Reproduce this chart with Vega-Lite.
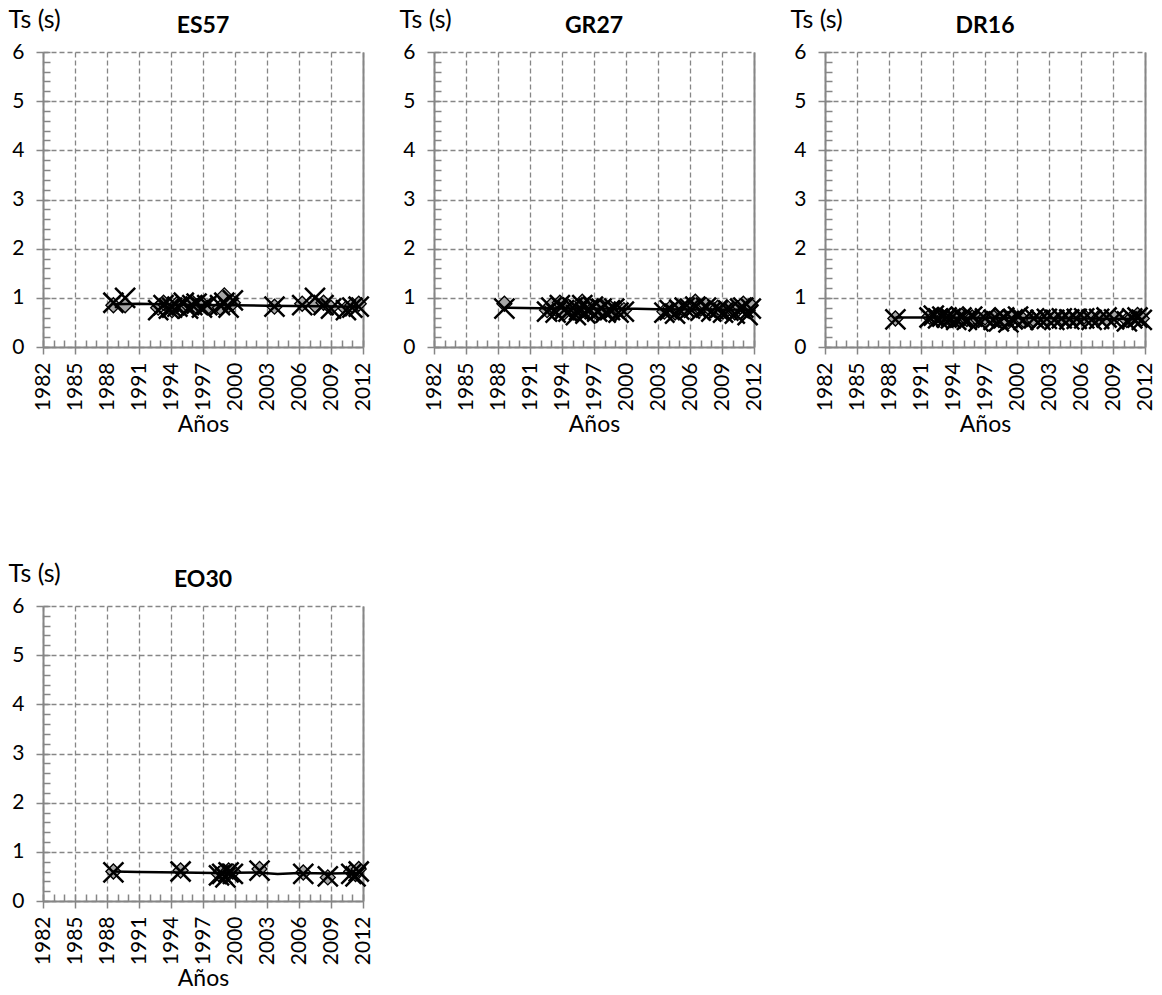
{
  "$schema": "https://vega.github.io/schema/vega-lite/v6.json",
  "padding": {"left": 8, "top": 7, "right": 0, "bottom": 0},
  "background": "white",
  "config": {
    "font": "Lato",
    "view": {"stroke": null},
    "title": {"font": "Lato", "fontSize": 23, "fontWeight": "bold", "color": "#000", "anchor": "middle", "offset": -31},
    "axis": {"labelFont": "Lato", "titleFont": "Lato", "labelColor": "#000", "titleColor": "#000", "titleFontWeight": "normal"}
  },
  "datasets": {
    "events": [
      {"station": "ES57", "year": 1988.6, "ts_d": 0.85, "ts_x": 0.9},
      {"station": "ES57", "year": 1989.7, "ts_d": 0.85, "ts_x": 1.0},
      {"station": "ES57", "year": 1992.8, "ts_d": 0.8, "ts_x": 0.75},
      {"station": "ES57", "year": 1993.3, "ts_d": 0.9, "ts_x": 0.85},
      {"station": "ES57", "year": 1993.8, "ts_d": 0.85, "ts_x": 0.78},
      {"station": "ES57", "year": 1994.1, "ts_d": 0.75, "ts_x": 0.8},
      {"station": "ES57", "year": 1994.6, "ts_d": 0.88, "ts_x": 0.82},
      {"station": "ES57", "year": 1995.2, "ts_d": 0.8, "ts_x": 0.9},
      {"station": "ES57", "year": 1995.6, "ts_d": 0.85, "ts_x": 0.78},
      {"station": "ES57", "year": 1996.0, "ts_d": 0.9, "ts_x": 0.85},
      {"station": "ES57", "year": 1996.4, "ts_d": 0.82, "ts_x": 0.88},
      {"station": "ES57", "year": 1996.9, "ts_d": 0.88, "ts_x": 0.8},
      {"station": "ES57", "year": 1997.4, "ts_d": 0.8, "ts_x": 0.85},
      {"station": "ES57", "year": 1998.6, "ts_d": 0.8, "ts_x": 0.85},
      {"station": "ES57", "year": 1999.0, "ts_d": 1.05, "ts_x": 0.9},
      {"station": "ES57", "year": 1999.4, "ts_d": 0.85, "ts_x": 0.8},
      {"station": "ES57", "year": 1999.8, "ts_d": 0.9, "ts_x": 0.95},
      {"station": "ES57", "year": 2003.7, "ts_d": 0.82, "ts_x": 0.82},
      {"station": "ES57", "year": 2006.3, "ts_d": 0.88, "ts_x": 0.85},
      {"station": "ES57", "year": 2007.5, "ts_d": 0.85, "ts_x": 1.0},
      {"station": "ES57", "year": 2008.3, "ts_d": 0.9, "ts_x": 0.85},
      {"station": "ES57", "year": 2009.0, "ts_d": 0.8, "ts_x": 0.78},
      {"station": "ES57", "year": 2010.4, "ts_d": 0.78, "ts_x": 0.75},
      {"station": "ES57", "year": 2011.0, "ts_d": 0.85, "ts_x": 0.8},
      {"station": "ES57", "year": 2011.6, "ts_d": 0.88, "ts_x": 0.82},

      {"station": "GR27", "year": 1988.6, "ts_d": 0.88, "ts_x": 0.78},
      {"station": "GR27", "year": 1992.6, "ts_d": 0.75, "ts_x": 0.72},
      {"station": "GR27", "year": 1993.0, "ts_d": 0.85, "ts_x": 0.8},
      {"station": "GR27", "year": 1993.4, "ts_d": 0.78, "ts_x": 0.7},
      {"station": "GR27", "year": 1993.8, "ts_d": 0.9, "ts_x": 0.85},
      {"station": "GR27", "year": 1994.2, "ts_d": 0.7, "ts_x": 0.75},
      {"station": "GR27", "year": 1994.6, "ts_d": 0.82, "ts_x": 0.72},
      {"station": "GR27", "year": 1995.0, "ts_d": 0.75, "ts_x": 0.8},
      {"station": "GR27", "year": 1995.3, "ts_d": 0.68, "ts_x": 0.65},
      {"station": "GR27", "year": 1995.6, "ts_d": 0.8, "ts_x": 0.75},
      {"station": "GR27", "year": 1995.9, "ts_d": 0.92, "ts_x": 0.85},
      {"station": "GR27", "year": 1996.2, "ts_d": 0.72, "ts_x": 0.68},
      {"station": "GR27", "year": 1996.5, "ts_d": 0.85, "ts_x": 0.78},
      {"station": "GR27", "year": 1996.9, "ts_d": 0.78, "ts_x": 0.82},
      {"station": "GR27", "year": 1997.3, "ts_d": 0.7, "ts_x": 0.72},
      {"station": "GR27", "year": 1997.7, "ts_d": 0.82, "ts_x": 0.78},
      {"station": "GR27", "year": 1998.1, "ts_d": 0.75, "ts_x": 0.7},
      {"station": "GR27", "year": 1998.5, "ts_d": 0.8, "ts_x": 0.75},
      {"station": "GR27", "year": 1998.9, "ts_d": 0.72, "ts_x": 0.78},
      {"station": "GR27", "year": 1999.3, "ts_d": 0.78, "ts_x": 0.7},
      {"station": "GR27", "year": 1999.8, "ts_d": 0.75, "ts_x": 0.72},
      {"station": "GR27", "year": 2003.6, "ts_d": 0.72, "ts_x": 0.7},
      {"station": "GR27", "year": 2004.1, "ts_d": 0.78, "ts_x": 0.75},
      {"station": "GR27", "year": 2004.6, "ts_d": 0.7, "ts_x": 0.68},
      {"station": "GR27", "year": 2005.0, "ts_d": 0.8, "ts_x": 0.76},
      {"station": "GR27", "year": 2005.5, "ts_d": 0.75, "ts_x": 0.8},
      {"station": "GR27", "year": 2006.0, "ts_d": 0.85, "ts_x": 0.78},
      {"station": "GR27", "year": 2006.5, "ts_d": 0.92, "ts_x": 0.82},
      {"station": "GR27", "year": 2007.0, "ts_d": 0.78, "ts_x": 0.74},
      {"station": "GR27", "year": 2007.5, "ts_d": 0.85, "ts_x": 0.8},
      {"station": "GR27", "year": 2008.0, "ts_d": 0.75, "ts_x": 0.72},
      {"station": "GR27", "year": 2008.6, "ts_d": 0.8, "ts_x": 0.76},
      {"station": "GR27", "year": 2009.1, "ts_d": 0.72, "ts_x": 0.7},
      {"station": "GR27", "year": 2009.6, "ts_d": 0.78, "ts_x": 0.74},
      {"station": "GR27", "year": 2010.2, "ts_d": 0.7, "ts_x": 0.68},
      {"station": "GR27", "year": 2010.7, "ts_d": 0.82, "ts_x": 0.78},
      {"station": "GR27", "year": 2011.0, "ts_d": 0.88, "ts_x": 0.8},
      {"station": "GR27", "year": 2011.4, "ts_d": 0.75, "ts_x": 0.65},
      {"station": "GR27", "year": 2011.7, "ts_d": 0.85, "ts_x": 0.78},

      {"station": "DR16", "year": 1988.6, "ts_d": 0.58, "ts_x": 0.56},
      {"station": "DR16", "year": 1991.8, "ts_d": 0.62, "ts_x": 0.6},
      {"station": "DR16", "year": 1992.2, "ts_d": 0.6, "ts_x": 0.64},
      {"station": "DR16", "year": 1992.6, "ts_d": 0.65, "ts_x": 0.58},
      {"station": "DR16", "year": 1993.0, "ts_d": 0.58, "ts_x": 0.62},
      {"station": "DR16", "year": 1993.4, "ts_d": 0.62, "ts_x": 0.6},
      {"station": "DR16", "year": 1993.8, "ts_d": 0.55, "ts_x": 0.58},
      {"station": "DR16", "year": 1994.3, "ts_d": 0.6, "ts_x": 0.55},
      {"station": "DR16", "year": 1994.8, "ts_d": 0.63, "ts_x": 0.6},
      {"station": "DR16", "year": 1995.3, "ts_d": 0.57, "ts_x": 0.55},
      {"station": "DR16", "year": 1995.8, "ts_d": 0.6, "ts_x": 0.62},
      {"station": "DR16", "year": 1996.4, "ts_d": 0.55, "ts_x": 0.52},
      {"station": "DR16", "year": 1997.0, "ts_d": 0.6, "ts_x": 0.58},
      {"station": "DR16", "year": 1997.8, "ts_d": 0.6, "ts_x": 0.55},
      {"station": "DR16", "year": 1998.3, "ts_d": 0.55, "ts_x": 0.52},
      {"station": "DR16", "year": 1998.8, "ts_d": 0.62, "ts_x": 0.6},
      {"station": "DR16", "year": 1999.2, "ts_d": 0.52, "ts_x": 0.5},
      {"station": "DR16", "year": 1999.6, "ts_d": 0.6, "ts_x": 0.56},
      {"station": "DR16", "year": 2000.1, "ts_d": 0.58, "ts_x": 0.62},
      {"station": "DR16", "year": 2000.6, "ts_d": 0.55, "ts_x": 0.55},
      {"station": "DR16", "year": 2001.6, "ts_d": 0.55, "ts_x": 0.58},
      {"station": "DR16", "year": 2002.2, "ts_d": 0.58, "ts_x": 0.55},
      {"station": "DR16", "year": 2002.8, "ts_d": 0.6, "ts_x": 0.57},
      {"station": "DR16", "year": 2003.5, "ts_d": 0.57, "ts_x": 0.55},
      {"station": "DR16", "year": 2004.2, "ts_d": 0.6, "ts_x": 0.58},
      {"station": "DR16", "year": 2004.9, "ts_d": 0.55, "ts_x": 0.56},
      {"station": "DR16", "year": 2005.6, "ts_d": 0.6, "ts_x": 0.57},
      {"station": "DR16", "year": 2006.3, "ts_d": 0.62, "ts_x": 0.58},
      {"station": "DR16", "year": 2007.0, "ts_d": 0.58, "ts_x": 0.55},
      {"station": "DR16", "year": 2007.7, "ts_d": 0.6, "ts_x": 0.57},
      {"station": "DR16", "year": 2008.4, "ts_d": 0.58, "ts_x": 0.6},
      {"station": "DR16", "year": 2009.1, "ts_d": 0.6, "ts_x": 0.56},
      {"station": "DR16", "year": 2010.3, "ts_d": 0.55, "ts_x": 0.52},
      {"station": "DR16", "year": 2010.8, "ts_d": 0.6, "ts_x": 0.58},
      {"station": "DR16", "year": 2011.3, "ts_d": 0.65, "ts_x": 0.6},
      {"station": "DR16", "year": 2011.7, "ts_d": 0.58, "ts_x": 0.55},

      {"station": "EO30", "year": 1988.6, "ts_d": 0.6, "ts_x": 0.58},
      {"station": "EO30", "year": 1994.9, "ts_d": 0.62, "ts_x": 0.6},
      {"station": "EO30", "year": 1998.5, "ts_d": 0.55, "ts_x": 0.52},
      {"station": "EO30", "year": 1998.8, "ts_d": 0.6, "ts_x": 0.55},
      {"station": "EO30", "year": 1999.1, "ts_d": 0.5, "ts_x": 0.48},
      {"station": "EO30", "year": 1999.4, "ts_d": 0.62, "ts_x": 0.58},
      {"station": "EO30", "year": 1999.8, "ts_d": 0.6, "ts_x": 0.55},
      {"station": "EO30", "year": 2002.3, "ts_d": 0.65, "ts_x": 0.62},
      {"station": "EO30", "year": 2006.4, "ts_d": 0.58, "ts_x": 0.55},
      {"station": "EO30", "year": 2008.7, "ts_d": 0.48, "ts_x": 0.5},
      {"station": "EO30", "year": 2010.9, "ts_d": 0.6, "ts_x": 0.55},
      {"station": "EO30", "year": 2011.3, "ts_d": 0.55, "ts_x": 0.5},
      {"station": "EO30", "year": 2011.6, "ts_d": 0.65, "ts_x": 0.6}
    ],
    "trend": [
      {"station": "ES57", "year": 1988.6, "ts": 0.87},
      {"station": "ES57", "year": 1991.0, "ts": 0.88},
      {"station": "ES57", "year": 1995.0, "ts": 0.86},
      {"station": "ES57", "year": 2000.0, "ts": 0.85},
      {"station": "ES57", "year": 2003.0, "ts": 0.84},
      {"station": "ES57", "year": 2008.0, "ts": 0.83},
      {"station": "ES57", "year": 2011.6, "ts": 0.82},
      {"station": "GR27", "year": 1988.6, "ts": 0.8},
      {"station": "GR27", "year": 1992.0, "ts": 0.79},
      {"station": "GR27", "year": 2001.0, "ts": 0.78},
      {"station": "GR27", "year": 2003.0, "ts": 0.77},
      {"station": "GR27", "year": 2011.7, "ts": 0.76},
      {"station": "DR16", "year": 1988.6, "ts": 0.6},
      {"station": "DR16", "year": 1992.0, "ts": 0.6},
      {"station": "DR16", "year": 2000.0, "ts": 0.59},
      {"station": "DR16", "year": 2011.7, "ts": 0.57},
      {"station": "EO30", "year": 1988.6, "ts": 0.6},
      {"station": "EO30", "year": 1991.0, "ts": 0.59},
      {"station": "EO30", "year": 1995.0, "ts": 0.58},
      {"station": "EO30", "year": 1998.0, "ts": 0.57},
      {"station": "EO30", "year": 2002.0, "ts": 0.58},
      {"station": "EO30", "year": 2004.0, "ts": 0.55},
      {"station": "EO30", "year": 2006.0, "ts": 0.57},
      {"station": "EO30", "year": 2009.0, "ts": 0.56},
      {"station": "EO30", "year": 2011.6, "ts": 0.57}
    ]
  },
  "columns": 3,
  "bounds": "flush",
  "spacing": {"row": 259, "column": 71},
  "concat": [
    {
      "width": 320, "height": 295,
      "title": "ES57",
      "layer": [
        {"data": {"name": "events"}, "transform": [{"filter": "datum.station === 'ES57'"}],
         "mark": {"type": "point", "shape": "diamond", "filled": true, "fill": "#a6a6a6", "stroke": "#000", "strokeWidth": 1.3, "size": 225, "opacity": 1},
         "encoding": {
           "x": {"field": "year", "type": "quantitative", "scale": {"domain": [1982, 2012], "nice": false, "zero": false},
                 "axis": {"values": [1982,1985,1988,1991,1994,1997,2000,2003,2006,2009,2012], "format": "d", "labelAngle": -90, "labelAlign": "right", "labelBaseline": "middle", "labelFontSize": 21, "labelPadding": 8, "labelOverlap": false, "labelFlush": false, "grid": true, "gridDash": [5, 3], "gridColor": "#868686", "gridWidth": 1.3, "domainColor": "#868686", "domainWidth": 2, "tickColor": "#868686", "tickSize": 7, "tickWidth": 1.5, "title": "Años", "titleFontSize": 23, "titlePadding": 3}},
           "y": {"field": "ts_d", "type": "quantitative", "scale": {"domain": [0, 6], "nice": false},
                 "axis": {"values": [0,1,2,3,4,5,6], "labelFontSize": 21, "labelPadding": 12, "grid": true, "gridDash": [5, 3], "gridColor": "#868686", "gridWidth": 1.3, "domainColor": "#868686", "domainWidth": 2, "tickColor": "#868686", "tickSize": 7, "tickWidth": 1.5, "title": "Ts (s)", "titleFontSize": 25, "titleAngle": 0, "titleAlign": "left", "titleBaseline": "alphabetic", "titleX": -35, "titleY": -25}}
         }},
        {"data": {"name": "trend"}, "transform": [{"filter": "datum.station === 'ES57'"}],
         "mark": {"type": "line", "color": "#000", "strokeWidth": 2.5},
         "encoding": {
           "x": {"field": "year", "type": "quantitative", "axis": {"orient": "bottom", "values": [1982,1983,1984,1985,1986,1987,1988,1989,1990,1991,1992,1993,1994,1995,1996,1997,1998,1999,2000,2001,2002,2003,2004,2005,2006,2007,2008,2009,2010,2011,2012], "labels": false, "domain": false, "grid": false, "ticks": true, "tickSize": -7, "tickColor": "#868686", "tickWidth": 1.5, "title": null}},
           "y": {"field": "ts", "type": "quantitative", "axis": {"orient": "left", "values": [0,0.2,0.4,0.6,0.8,1,1.2,1.4,1.6,1.8,2,2.2,2.4,2.6,2.8,3,3.2,3.4,3.6,3.8,4,4.2,4.4,4.6,4.8,5,5.2,5.4,5.6,5.8,6], "labels": false, "domain": false, "grid": false, "ticks": true, "tickSize": -7, "tickColor": "#868686", "tickWidth": 1.5, "title": null}}
         }},
        {"data": {"name": "events"}, "transform": [{"filter": "datum.station === 'ES57'"}],
         "mark": {"type": "point", "shape": "M-1,-1L1,1M-1,1L1,-1", "filled": false, "stroke": "#000", "strokeWidth": 2.5, "size": 400, "opacity": 1},
         "encoding": {
           "x": {"field": "year", "type": "quantitative", "axis": null},
           "y": {"field": "ts_x", "type": "quantitative", "axis": {"orient": "right", "labels": false, "ticks": false, "grid": false, "domain": true, "domainColor": "#868686", "domainWidth": 2, "title": null}}
         }}
      ],
      "resolve": {"axis": {"x": "independent", "y": "independent"}}
    },
    {
      "width": 320, "height": 295,
      "title": "GR27",
      "layer": [
        {"data": {"name": "events"}, "transform": [{"filter": "datum.station === 'GR27'"}],
         "mark": {"type": "point", "shape": "diamond", "filled": true, "fill": "#a6a6a6", "stroke": "#000", "strokeWidth": 1.3, "size": 225, "opacity": 1},
         "encoding": {
           "x": {"field": "year", "type": "quantitative", "scale": {"domain": [1982, 2012], "nice": false, "zero": false},
                 "axis": {"values": [1982,1985,1988,1991,1994,1997,2000,2003,2006,2009,2012], "format": "d", "labelAngle": -90, "labelAlign": "right", "labelBaseline": "middle", "labelFontSize": 21, "labelPadding": 8, "labelOverlap": false, "labelFlush": false, "grid": true, "gridDash": [5, 3], "gridColor": "#868686", "gridWidth": 1.3, "domainColor": "#868686", "domainWidth": 2, "tickColor": "#868686", "tickSize": 7, "tickWidth": 1.5, "title": "Años", "titleFontSize": 23, "titlePadding": 3}},
           "y": {"field": "ts_d", "type": "quantitative", "scale": {"domain": [0, 6], "nice": false},
                 "axis": {"values": [0,1,2,3,4,5,6], "labelFontSize": 21, "labelPadding": 12, "grid": true, "gridDash": [5, 3], "gridColor": "#868686", "gridWidth": 1.3, "domainColor": "#868686", "domainWidth": 2, "tickColor": "#868686", "tickSize": 7, "tickWidth": 1.5, "title": "Ts (s)", "titleFontSize": 25, "titleAngle": 0, "titleAlign": "left", "titleBaseline": "alphabetic", "titleX": -35, "titleY": -25}}
         }},
        {"data": {"name": "trend"}, "transform": [{"filter": "datum.station === 'GR27'"}],
         "mark": {"type": "line", "color": "#000", "strokeWidth": 2.5},
         "encoding": {
           "x": {"field": "year", "type": "quantitative", "axis": {"orient": "bottom", "values": [1982,1983,1984,1985,1986,1987,1988,1989,1990,1991,1992,1993,1994,1995,1996,1997,1998,1999,2000,2001,2002,2003,2004,2005,2006,2007,2008,2009,2010,2011,2012], "labels": false, "domain": false, "grid": false, "ticks": true, "tickSize": -7, "tickColor": "#868686", "tickWidth": 1.5, "title": null}},
           "y": {"field": "ts", "type": "quantitative", "axis": {"orient": "left", "values": [0,0.2,0.4,0.6,0.8,1,1.2,1.4,1.6,1.8,2,2.2,2.4,2.6,2.8,3,3.2,3.4,3.6,3.8,4,4.2,4.4,4.6,4.8,5,5.2,5.4,5.6,5.8,6], "labels": false, "domain": false, "grid": false, "ticks": true, "tickSize": -7, "tickColor": "#868686", "tickWidth": 1.5, "title": null}}
         }},
        {"data": {"name": "events"}, "transform": [{"filter": "datum.station === 'GR27'"}],
         "mark": {"type": "point", "shape": "M-1,-1L1,1M-1,1L1,-1", "filled": false, "stroke": "#000", "strokeWidth": 2.5, "size": 400, "opacity": 1},
         "encoding": {
           "x": {"field": "year", "type": "quantitative", "axis": null},
           "y": {"field": "ts_x", "type": "quantitative", "axis": {"orient": "right", "labels": false, "ticks": false, "grid": false, "domain": true, "domainColor": "#868686", "domainWidth": 2, "title": null}}
         }}
      ],
      "resolve": {"axis": {"x": "independent", "y": "independent"}}
    },
    {
      "width": 320, "height": 295,
      "title": "DR16",
      "layer": [
        {"data": {"name": "events"}, "transform": [{"filter": "datum.station === 'DR16'"}],
         "mark": {"type": "point", "shape": "diamond", "filled": true, "fill": "#a6a6a6", "stroke": "#000", "strokeWidth": 1.3, "size": 225, "opacity": 1},
         "encoding": {
           "x": {"field": "year", "type": "quantitative", "scale": {"domain": [1982, 2012], "nice": false, "zero": false},
                 "axis": {"values": [1982,1985,1988,1991,1994,1997,2000,2003,2006,2009,2012], "format": "d", "labelAngle": -90, "labelAlign": "right", "labelBaseline": "middle", "labelFontSize": 21, "labelPadding": 8, "labelOverlap": false, "labelFlush": false, "grid": true, "gridDash": [5, 3], "gridColor": "#868686", "gridWidth": 1.3, "domainColor": "#868686", "domainWidth": 2, "tickColor": "#868686", "tickSize": 7, "tickWidth": 1.5, "title": "Años", "titleFontSize": 23, "titlePadding": 3}},
           "y": {"field": "ts_d", "type": "quantitative", "scale": {"domain": [0, 6], "nice": false},
                 "axis": {"values": [0,1,2,3,4,5,6], "labelFontSize": 21, "labelPadding": 12, "grid": true, "gridDash": [5, 3], "gridColor": "#868686", "gridWidth": 1.3, "domainColor": "#868686", "domainWidth": 2, "tickColor": "#868686", "tickSize": 7, "tickWidth": 1.5, "title": "Ts (s)", "titleFontSize": 25, "titleAngle": 0, "titleAlign": "left", "titleBaseline": "alphabetic", "titleX": -35, "titleY": -25}}
         }},
        {"data": {"name": "trend"}, "transform": [{"filter": "datum.station === 'DR16'"}],
         "mark": {"type": "line", "color": "#000", "strokeWidth": 2.5},
         "encoding": {
           "x": {"field": "year", "type": "quantitative", "axis": {"orient": "bottom", "values": [1982,1983,1984,1985,1986,1987,1988,1989,1990,1991,1992,1993,1994,1995,1996,1997,1998,1999,2000,2001,2002,2003,2004,2005,2006,2007,2008,2009,2010,2011,2012], "labels": false, "domain": false, "grid": false, "ticks": true, "tickSize": -7, "tickColor": "#868686", "tickWidth": 1.5, "title": null}},
           "y": {"field": "ts", "type": "quantitative", "axis": {"orient": "left", "values": [0,0.2,0.4,0.6,0.8,1,1.2,1.4,1.6,1.8,2,2.2,2.4,2.6,2.8,3,3.2,3.4,3.6,3.8,4,4.2,4.4,4.6,4.8,5,5.2,5.4,5.6,5.8,6], "labels": false, "domain": false, "grid": false, "ticks": true, "tickSize": -7, "tickColor": "#868686", "tickWidth": 1.5, "title": null}}
         }},
        {"data": {"name": "events"}, "transform": [{"filter": "datum.station === 'DR16'"}],
         "mark": {"type": "point", "shape": "M-1,-1L1,1M-1,1L1,-1", "filled": false, "stroke": "#000", "strokeWidth": 2.5, "size": 400, "opacity": 1},
         "encoding": {
           "x": {"field": "year", "type": "quantitative", "axis": null},
           "y": {"field": "ts_x", "type": "quantitative", "axis": {"orient": "right", "labels": false, "ticks": false, "grid": false, "domain": true, "domainColor": "#868686", "domainWidth": 2, "title": null}}
         }}
      ],
      "resolve": {"axis": {"x": "independent", "y": "independent"}}
    },
    {
      "width": 320, "height": 295,
      "title": "EO30",
      "layer": [
        {"data": {"name": "events"}, "transform": [{"filter": "datum.station === 'EO30'"}],
         "mark": {"type": "point", "shape": "diamond", "filled": true, "fill": "#a6a6a6", "stroke": "#000", "strokeWidth": 1.3, "size": 225, "opacity": 1},
         "encoding": {
           "x": {"field": "year", "type": "quantitative", "scale": {"domain": [1982, 2012], "nice": false, "zero": false},
                 "axis": {"values": [1982,1985,1988,1991,1994,1997,2000,2003,2006,2009,2012], "format": "d", "labelAngle": -90, "labelAlign": "right", "labelBaseline": "middle", "labelFontSize": 21, "labelPadding": 8, "labelOverlap": false, "labelFlush": false, "grid": true, "gridDash": [5, 3], "gridColor": "#868686", "gridWidth": 1.3, "domainColor": "#868686", "domainWidth": 2, "tickColor": "#868686", "tickSize": 7, "tickWidth": 1.5, "title": "Años", "titleFontSize": 23, "titlePadding": 3}},
           "y": {"field": "ts_d", "type": "quantitative", "scale": {"domain": [0, 6], "nice": false},
                 "axis": {"values": [0,1,2,3,4,5,6], "labelFontSize": 21, "labelPadding": 12, "grid": true, "gridDash": [5, 3], "gridColor": "#868686", "gridWidth": 1.3, "domainColor": "#868686", "domainWidth": 2, "tickColor": "#868686", "tickSize": 7, "tickWidth": 1.5, "title": "Ts (s)", "titleFontSize": 25, "titleAngle": 0, "titleAlign": "left", "titleBaseline": "alphabetic", "titleX": -35, "titleY": -25}}
         }},
        {"data": {"name": "trend"}, "transform": [{"filter": "datum.station === 'EO30'"}],
         "mark": {"type": "line", "color": "#000", "strokeWidth": 2.5},
         "encoding": {
           "x": {"field": "year", "type": "quantitative", "axis": {"orient": "bottom", "values": [1982,1983,1984,1985,1986,1987,1988,1989,1990,1991,1992,1993,1994,1995,1996,1997,1998,1999,2000,2001,2002,2003,2004,2005,2006,2007,2008,2009,2010,2011,2012], "labels": false, "domain": false, "grid": false, "ticks": true, "tickSize": -7, "tickColor": "#868686", "tickWidth": 1.5, "title": null}},
           "y": {"field": "ts", "type": "quantitative", "axis": {"orient": "left", "values": [0,0.2,0.4,0.6,0.8,1,1.2,1.4,1.6,1.8,2,2.2,2.4,2.6,2.8,3,3.2,3.4,3.6,3.8,4,4.2,4.4,4.6,4.8,5,5.2,5.4,5.6,5.8,6], "labels": false, "domain": false, "grid": false, "ticks": true, "tickSize": -7, "tickColor": "#868686", "tickWidth": 1.5, "title": null}}
         }},
        {"data": {"name": "events"}, "transform": [{"filter": "datum.station === 'EO30'"}],
         "mark": {"type": "point", "shape": "M-1,-1L1,1M-1,1L1,-1", "filled": false, "stroke": "#000", "strokeWidth": 2.5, "size": 400, "opacity": 1},
         "encoding": {
           "x": {"field": "year", "type": "quantitative", "axis": null},
           "y": {"field": "ts_x", "type": "quantitative", "axis": {"orient": "right", "labels": false, "ticks": false, "grid": false, "domain": true, "domainColor": "#868686", "domainWidth": 2, "title": null}}
         }}
      ],
      "resolve": {"axis": {"x": "independent", "y": "independent"}}
    }
  ]
}
